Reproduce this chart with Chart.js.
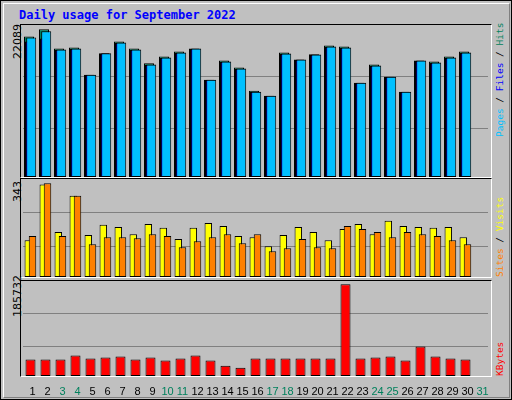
<!DOCTYPE html>
<html>
<head>
<meta charset="utf-8">
<script src="https://cdn.jsdelivr.net/npm/chart.js@4/dist/chart.umd.min.js"></script>
<style>
body { margin:0; background:#fff; }
#frame { position:absolute; left:0; top:0; width:510px; height:398px; background:#c0c0c0; border:1px solid #000; }
#inner { position:absolute; left:2px; top:2px; width:505px; height:393px; border-top:1px solid #fff; border-left:1px solid #fff; border-right:1px solid #808080; border-bottom:1px solid #808080; }
.t { position:absolute; font-family:"DejaVu Sans Mono", monospace; white-space:nowrap; }
.rot { transform-origin:left top; transform:rotate(-90deg); }
.panel { position:absolute; left:20px; width:470px; border-top:1px solid #000; border-left:1px solid #000; border-right:1px solid #fff; border-bottom:1px solid #fff; }
canvas { position:absolute; }
</style>
</head>
<body>
<div id="frame"><div id="inner"></div></div>
<div class="t" style="left:19px;top:8px;font-size:12px;font-weight:bold;color:#0000ff">Daily usage for September 2022</div>
<div class="panel" style="top:24px;height:152px"></div>
<div class="panel" style="top:178px;height:98px"></div>
<div class="panel" style="top:280px;height:95px"></div>
<div class="t rot" style="left:11px;top:59px;font-family:'DejaVu Sans';font-size:11px">22089</div>
<div class="t rot" style="left:11px;top:202px;font-family:'DejaVu Sans';font-size:11px">343</div>
<div class="t rot" style="left:11px;top:317px;font-family:'DejaVu Sans';font-size:11px">185732</div>
<div class="t rot" style="left:494px;top:137px;font-size:9.5px"><span style="color:#00c0ff">Pages</span> / <span style="color:#0000ff">Files</span> / <span style="color:#00805c">Hits</span></div>
<div class="t rot" style="left:494px;top:277px;font-size:9.5px"><span style="color:#ff8000">Sites</span> / <span style="color:#ffff00">Visits</span></div>
<div class="t rot" style="left:494px;top:376px;font-size:9.5px;color:#ff0000">KBytes</div>
<canvas id="c1" style="left:21px;top:25px" width="470" height="152"></canvas>
<canvas id="c2" style="left:21px;top:179px" width="470" height="98"></canvas>
<canvas id="c3" style="left:21px;top:281px" width="470" height="117"></canvas>
<script>
var days = ['1','2','3','4','5','6','7','8','9','10','11','12','13','14','15','16','17','18','19','20','21','22','23','24','25','26','27','28','29','30','31'];
var weekendDays = ['3','4','10','11','17','18','24','25','31'];
var hits = [21034,22089,19227,19377,15311,18524,20281,19227,17018,18022,18775,19227,14558,17419,16365,12901,12148,18624,17570,18373,19678,19528,14106,16817,15010,12751,17419,17269,18022,18775,null];
var files = [20281,20733,19000,19150,15250,18450,20050,19000,16750,17800,18550,19150,14500,17200,16150,12700,12100,18400,17500,18250,19450,19300,14050,16600,14950,12700,17350,17050,17800,18550,null];
var pages = [20883,21787,19076,19227,15311,18524,20130,19076,16817,17871,18624,19227,14558,17269,16215,12751,12148,18474,17570,18323,19528,19377,14106,16666,15010,12751,17419,17118,17871,18624,null];
var visits = [135,339,165,298,154,191,183,157,194,180,139,180,198,187,150,146,113,154,183,165,135,176,194,157,206,187,183,180,183,146,null];
var sites = [150,343,150,298,120,146,146,142,157,150,109,131,146,157,124,157,94,105,139,109,105,187,176,165,146,165,157,150,135,120,null];
var kbytes = [33212,33212,33212,41346,35246,37279,39312,33212,37279,31179,35246,41346,31179,21012,16945,35246,35246,35246,35246,35246,35246,185732,35246,37279,39312,31179,59646,39312,35246,33212,null];

// shift overlapping bar series sideways like the 3d-ish webalizer look
var shiftPlugin = {
  id: 'shift',
  beforeDatasetDraw: function (chart, args) {
    var sh = chart.data.datasets[args.index].shift || 0;
    chart.ctx.save();
    chart.ctx.translate(sh, 0);
  },
  afterDatasetDraw: function (chart) { chart.ctx.restore(); }
};

function yAxis(max, grid) {
  return {
    min: 0, max: max,
    ticks: { display: false },
    border: { display: false },
    grid: { color: '#808080', lineWidth: 1, drawTicks: false },
    afterBuildTicks: function (s) { s.ticks = grid.map(function (v) { return { value: v }; }); },
    afterFit: function (s) { s.width = 0; }
  };
}
function xAxis(show) {
  return {
    offset: true,
    grid: { display: false },
    border: { display: false },
    ticks: {
      display: show, autoSkip: false, maxRotation: 0, padding: 1, labelOffset: 2,
      font: { family: 'Liberation Sans', size: 11 },
      color: function (c) { return weekendDays.indexOf(days[c.index]) >= 0 ? '#00805c' : '#000'; }
    },
    afterFit: function (s) { s.height = show ? 22 : 0; }
  };
}
function opts(max, grid, showX) {
  return {
    animation: false, responsive: false,
    layout: { padding: { left: 2, right: 3, top: 0, bottom: 0 } },
    plugins: { legend: { display: false }, tooltip: { enabled: false } },
    scales: { x: xAxis(showX), y: yAxis(max, grid) }
  };
}
function ds(data, color, bar, shift, order) {
  return { data: data, backgroundColor: color, borderColor: '#000', borderWidth: 1, borderSkipped: false,
           grouped: false, categoryPercentage: 1, barPercentage: bar, shift: shift, order: order };
}

new Chart(document.getElementById('c1'), {
  type: 'bar',
  data: { labels: days, datasets: [
    ds(hits, '#00805c', 0.667, -1.5, 2),
    ds(files, '#0000ff', 0.667, -0.5, 1),
    ds(pages, '#00c0ff', 0.667, 0.7, 0)
  ] },
  options: opts(22740, [7330, 15010], false),
  plugins: [shiftPlugin]
});

new Chart(document.getElementById('c2'), {
  type: 'bar',
  data: { labels: days, datasets: [
    ds(visits, '#ffff00', 0.5, -2.2, 1),
    ds(sites, '#ff8000', 0.5, 2, 0)
  ] },
  options: opts(359, [113, 235], false),
  plugins: [shiftPlugin]
});

new Chart(document.getElementById('c3'), {
  type: 'bar',
  data: { labels: days, datasets: [
    ds(kbytes, '#ff0000', 0.667, 0, 0)
  ] },
  options: opts(192500, [59650, 126750], true)
});
</script>
</body>
</html>
